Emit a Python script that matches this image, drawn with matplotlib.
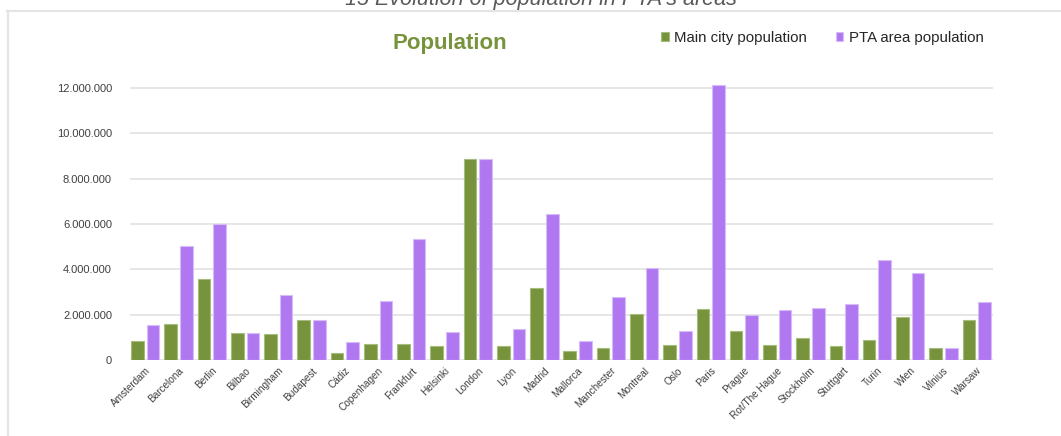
import matplotlib
matplotlib.use("Agg")
import matplotlib.pyplot as plt
import numpy as np
from matplotlib.ticker import FuncFormatter, MultipleLocator
from matplotlib.lines import Line2D

plt.rcParams["font.family"] = ["Liberation Sans", "DejaVu Sans"]

cities = ["Amsterdam", "Barcelona", "Berlin", "Bilbao", "Birmingham", "Budapest",
          "Cádiz", "Copenhagen", "Frankfurt", "Helsinki", "London", "Lyon", "Madrid",
          "Mallorca", "Manchester", "Montreal", "Oslo", "Paris", "Prague",
          "Rot/The Hague", "Stockholm", "Stuttgart", "Turin", "Wien", "Vilnius", "Warsaw"]

main_city = [840_000, 1_610_000, 3_580_000, 1_170_000, 1_140_000, 1_780_000,
             310_000, 690_000, 720_000, 630_000, 8_880_000, 630_000, 3_180_000,
             380_000, 510_000, 2_020_000, 660_000, 2_260_000, 1_280_000,
             650_000, 950_000, 600_000, 870_000, 1_880_000, 510_000, 1_760_000]

pta_area = [1_530_000, 5_020_000, 6_010_000, 1_170_000, 2_880_000, 1_780_000,
            810_000, 2_610_000, 5_350_000, 1_250_000, 8_880_000, 1_380_000, 6_430_000,
            840_000, 2_790_000, 4_060_000, 1_280_000, 12_130_000, 2_000_000,
            2_200_000, 2_290_000, 2_490_000, 4_390_000, 3_830_000, 510_000, 2_580_000]

green = "#77933C"
purple = "#B078F0"

fig = plt.figure(figsize=(10.61, 4.36), dpi=100)
ax = fig.add_axes([130 / 1061, 76 / 436, 863 / 1061, 278.8 / 436])

x = np.arange(len(cities))
w = 0.38
off = 0.235
b1 = ax.bar(x - off, main_city, width=w, color=green, edgecolor="#A6BC7E",
            linewidth=0.8, label="Main city population", zorder=3)
b2 = ax.bar(x + off, pta_area, width=w, color=purple, edgecolor="#D8BCFA",
            linewidth=0.8, label="PTA area population", zorder=3)

ax.set_xlim(-0.46, len(cities) - 1 + 0.49)
ax.set_ylim(0, 12_300_000)
ax.yaxis.set_major_locator(MultipleLocator(2_000_000))
ax.yaxis.set_major_formatter(FuncFormatter(lambda v, p: f"{int(v):,}".replace(",", ".")))
ax.grid(axis="y", color="#E6E6E6", linewidth=1.4, zorder=0)
for s in ax.spines.values():
    s.set_visible(False)
ax.tick_params(axis="y", length=0, pad=13, labelsize=8, labelcolor="#404040")
ax.tick_params(axis="x", length=0, pad=4, labelsize=7.2, labelcolor="#404040")
ax.set_xticks(x)
ax.set_xticklabels(cities, rotation=45, ha="right", va="top", rotation_mode="anchor")

# chart heading and legend
fig.text(450 / 1061, 1 - 43 / 436, "Population", ha="center", va="center",
         fontsize=16, fontweight="bold", color=green)
fig.legend(handles=[b1, b2], loc="center left", bbox_to_anchor=(661 / 1061, 1 - 38 / 436),
           ncol=2, frameon=False, fontsize=10.8, handlelength=0.5, handleheight=0.5,
           handletextpad=0.4, columnspacing=1.9, borderpad=0, borderaxespad=0,
           labelcolor="#262626")

# figure caption above the chart box
fig.text(541 / 1061, 1 - 5.5 / 436, "15 Evolution of population in PTA's areas",
         ha="center", va="baseline", fontsize=15.5, style="italic", color="#595959")

# chart box outline
fig.add_artist(Line2D([7 / 1061, 1.0], [1 - 11 / 436, 1 - 11 / 436],
                      transform=fig.transFigure, color="#E4E4E4", linewidth=1.6))
fig.add_artist(Line2D([8 / 1061, 8 / 1061], [0, 1 - 11 / 436],
                      transform=fig.transFigure, color="#E4E4E4", linewidth=1.6))

fig.savefig("out.png", dpi=100)
